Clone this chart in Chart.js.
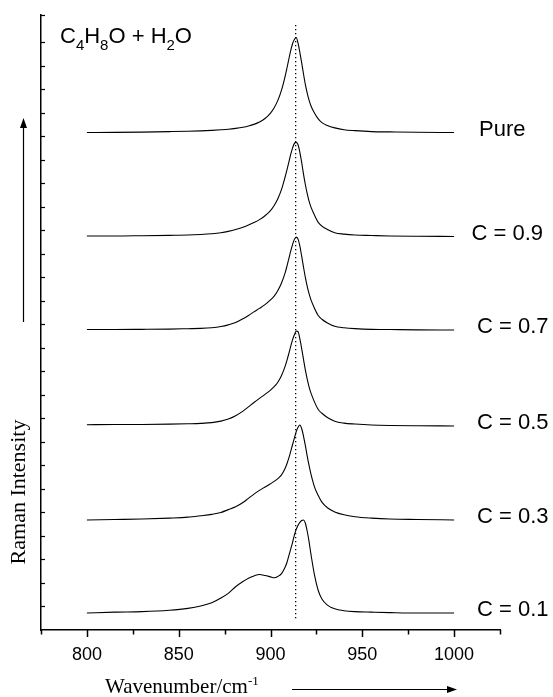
<!DOCTYPE html>
<html>
<head>
<meta charset="utf-8">
<script src="https://cdn.jsdelivr.net/npm/chart.js@4.4.0/dist/chart.umd.min.js"></script>
<style>
  html, body { margin:0; padding:0; background:#fff; }
  #wrap { width:553px; height:697px; }
</style>
</head>
<body>
<div id="wrap"><canvas id="chart" width="553" height="697"></canvas></div>
<script>
// shared wavenumber grid (cm-1)
const WAVENUMBER = [800, 815, 830, 845, 855, 862, 868, 873, 877, 881, 885, 888, 891, 894, 897, 900, 902, 904, 906, 908, 909, 910, 911, 912, 913, 914, 915, 916, 917, 918, 919, 920, 921, 922, 924, 926, 928, 931, 935, 940, 946, 955, 965, 980, 1000];

// stacked spectra, offsets already included (arb. units)
const PURE = [52.9, 52.92, 52.95, 53.0, 53.04, 53.08, 53.13, 53.19, 53.25, 53.34, 53.46, 53.59, 53.77, 54.02, 54.39, 54.97, 55.54, 56.32, 57.42, 58.91, 59.79, 60.72, 61.6, 62.34, 62.8, 63.0, 62.4, 61.4, 60.3, 59.1, 58.0, 57.1, 56.35, 55.75, 54.95, 54.35, 53.95, 53.65, 53.4, 53.2, 53.1, 53.0, 52.97, 52.93, 52.9];
const C09 = [41.9, 41.9, 41.93, 41.97, 42.0, 42.06, 42.14, 42.25, 42.39, 42.58, 42.83, 43.06, 43.33, 43.64, 44.05, 44.6, 45.14, 45.85, 46.85, 48.2, 48.95, 49.75, 50.58, 51.25, 51.75, 51.85, 51.6, 50.8, 49.7, 48.45, 47.35, 46.4, 45.6, 45.0, 44.1, 43.35, 42.95, 42.6, 42.25, 42.1, 42.0, 41.95, 41.9, 41.87, 41.85];
const C07 = [31.95, 31.95, 31.97, 32.0, 32.04, 32.07, 32.14, 32.27, 32.45, 32.7, 33.1, 33.45, 33.83, 34.2, 34.6, 35.1, 35.5, 36.1, 36.9, 38.0, 38.73, 39.5, 40.28, 40.99, 41.54, 41.78, 41.57, 40.82, 39.73, 38.57, 37.48, 36.54, 35.76, 35.13, 34.2, 33.45, 33.05, 32.65, 32.3, 32.15, 32.05, 31.97, 31.95, 31.92, 31.9];
const C05 = [21.83, 21.85, 21.86, 21.89, 21.93, 21.97, 22.05, 22.21, 22.43, 22.79, 23.28, 23.73, 24.19, 24.63, 25.06, 25.51, 25.87, 26.35, 27.06, 28.06, 28.7, 29.41, 30.15, 30.85, 31.39, 31.78, 31.72, 30.95, 29.9, 28.75, 27.63, 26.67, 25.86, 25.21, 24.23, 23.45, 23.05, 22.6, 22.2, 22.0, 21.9, 21.8, 21.75, 21.72, 21.7];
const C03 = [11.7, 11.75, 11.8, 11.9, 12.0, 12.15, 12.3, 12.5, 12.8, 13.1, 13.55, 14.0, 14.45, 14.85, 15.2, 15.55, 15.8, 16.1, 16.5, 17.2, 17.7, 18.3, 19.0, 19.7, 20.4, 21.1, 21.55, 21.8, 21.4, 20.6, 19.6, 18.5, 17.5, 16.6, 15.2, 14.3, 13.6, 13.0, 12.55, 12.25, 12.05, 11.9, 11.8, 11.75, 11.7];
const C01 = [1.8, 1.9, 1.95, 2.1, 2.3, 2.55, 2.9, 3.4, 3.9, 4.6, 5.15, 5.5, 5.75, 5.9, 5.8, 5.65, 5.55, 5.7, 6.0, 6.7, 7.2, 7.9, 8.6, 9.3, 10.1, 10.7, 11.15, 11.45, 11.65, 11.7, 11.35, 10.5, 9.4, 8.1, 5.8, 4.2, 3.3, 2.65, 2.25, 2.05, 1.95, 1.9, 1.85, 1.8, 1.8];

const SERIES_LABELS = ['Pure', 'C = 0.9', 'C = 0.7', 'C = 0.5', 'C = 0.3', 'C = 0.1'];

// dotted marker at the pure-liquid band position
const PEAK_REF = 913.7;
const REF_LINE_Y = [1.25, 64.5];

const SPECTRA = [PURE, C09, C07, C05, C03, C01];

const datasets = SPECTRA.map((s, i) => ({
  label: SERIES_LABELS[i],
  data: WAVENUMBER.map((w, k) => ({ x: w, y: s[k] })),
  borderColor: '#000',
  borderWidth: 1.1,
  pointRadius: 0,
  cubicInterpolationMode: 'monotone',
  fill: false
}));
datasets.push({
  label: 'ref',
  data: REF_LINE_Y.map(v => ({ x: PEAK_REF, y: v })),
  borderColor: '#000',
  borderWidth: 1.3,
  borderDash: [1.3, 2.7],
  pointRadius: 0
});

function arrow(ctx, x1, y1, x2, y2) {
  const ang = Math.atan2(y2 - y1, x2 - x1);
  ctx.beginPath();
  ctx.moveTo(x1, y1);
  ctx.lineTo(x2 - 8 * Math.cos(ang), y2 - 8 * Math.sin(ang));
  ctx.stroke();
  ctx.beginPath();
  ctx.moveTo(x2, y2);
  ctx.lineTo(x2 - 10 * Math.cos(ang) + 3.5 * Math.sin(ang), y2 - 10 * Math.sin(ang) - 3.5 * Math.cos(ang));
  ctx.lineTo(x2 - 10 * Math.cos(ang) - 3.5 * Math.sin(ang), y2 - 10 * Math.sin(ang) + 3.5 * Math.cos(ang));
  ctx.closePath();
  ctx.fill();
}

// text runs with subscript/superscript pieces: [text, shift]
function drawRuns(ctx, runs, x, y, big, small, family) {
  runs.forEach(([t, shift]) => {
    ctx.font = (shift ? small : big) + 'px ' + family;
    ctx.fillText(t, x, y + shift);
    x += ctx.measureText(t).width;
  });
}

const decor = {
  id: 'decor',
  afterDraw(chart) {
    const { ctx, chartArea: a, scales: { x, y } } = chart;
    ctx.save();
    ctx.strokeStyle = '#000';
    ctx.fillStyle = '#000';
    ctx.lineWidth = 1.2;

    // inward ticks on the intensity axis
    y.ticks.forEach(t => {
      if (t.value <= 0) return;
      const py = Math.round(y.getPixelForValue(t.value)) + 0.5;
      ctx.beginPath();
      ctx.moveTo(a.left, py);
      ctx.lineTo(a.left + 4, py);
      ctx.stroke();
    });

    // outward ticks on the wavenumber axis, long ones at labelled values
    ctx.lineWidth = 1.5;
    x.ticks.forEach(t => {
      const px = Math.round(x.getPixelForValue(t.value)) + 0.5;
      const len = t.value % 50 === 0 ? 7 : 4.5;
      ctx.beginPath();
      ctx.moveTo(px, a.bottom);
      ctx.lineTo(px, a.bottom + len);
      ctx.stroke();
    });

    // formula in the corner
    ctx.textBaseline = 'alphabetic';
    ctx.textAlign = 'left';
    drawRuns(ctx, [['C', 0], ['4', 7], ['H', 0], ['8', 7], ['O + H', 0], ['2', 7], ['O', 0]],
      60, 43, 22, 15, '"Liberation Sans", Arial, sans-serif');

    // concentration labels next to each trace end
    ctx.font = '22px "Liberation Sans", Arial, sans-serif';
    ctx.textBaseline = 'middle';
    SPECTRA.forEach((s, i) => {
      const px = x.getPixelForValue(i === 1 ? 1009.5 : 1012.5) + (i === 0 ? 2 : 0);
      const py = y.getPixelForValue(s[s.length - 1]) - 3;
      ctx.fillText(SERIES_LABELS[i], px, py);
    });

    // axis titles with direction arrows
    ctx.lineWidth = 1.2;
    ctx.textBaseline = 'alphabetic';
    drawRuns(ctx, [['Wavenumber/cm', 0], ['-1', -8]], 105, 693, 21, 13, '"Liberation Serif", "Times New Roman", serif');
    arrow(ctx, 292, 689.5, 457, 689.5);

    ctx.save();
    ctx.translate(25, 492);
    ctx.rotate(-Math.PI / 2);
    ctx.textAlign = 'center';
    ctx.font = '22px "Liberation Serif", "Times New Roman", serif';
    ctx.fillText('Raman Intensity', 0, 0);
    ctx.restore();
    arrow(ctx, 23.5, 322, 23.5, 118);

    ctx.restore();
  }
};

new Chart(document.getElementById('chart'), {
  type: 'line',
  data: { datasets },
  options: {
    responsive: false,
    animation: false,
    layout: { padding: { left: 41, right: 53, top: 15, bottom: 0 } },
    plugins: { legend: { display: false }, tooltip: { enabled: false } },
    scales: {
      x: {
        type: 'linear',
        min: 775,
        max: 1025,
        afterFit: s => { s.height = 67; },
        grid: { display: false, drawTicks: false },
        border: { display: true, color: '#000', width: 1.5 },
        ticks: {
          stepSize: 25,
          autoSkip: false,
          maxRotation: 0,
          padding: 14,
          color: '#000',
          font: { size: 18, family: '"Liberation Sans", Arial, sans-serif' },
          callback: v => (v % 50 === 0 ? v : '')
        }
      },
      y: {
        type: 'linear',
        min: 0,
        max: 65.4,
        grid: { display: false, drawTicks: false },
        border: { display: true, color: '#000', width: 1.5 },
        ticks: { display: false, stepSize: 2.5 }
      }
    }
  },
  plugins: [decor]
});
</script>
</body>
</html>
